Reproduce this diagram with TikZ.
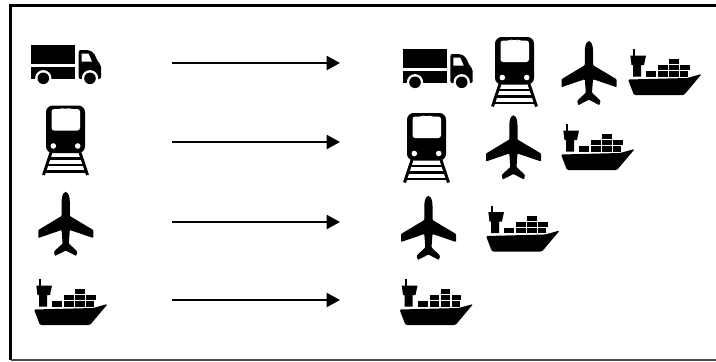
\documentclass[tikz,border=0pt]{standalone}
\usepackage{tikz}
\usetikzlibrary{arrows.meta,positioning}

\tikzset{
  arrowline/.style={-{Triangle[length=10pt,width=10.5pt]},line width=1.5pt},
  truck/.pic={
    \fill (0,0) rectangle (44.3,19);
    \fill (0,22.3) rectangle (44.3,34);
    \fill[rounded corners=1.5pt] (47.7,5) -- (58,5) -- (63,8) -- (67,17) -- (70,20) -- (70,34) -- (47.7,34) -- cycle;
    \fill[white] (50.7,8.5) -- (57.5,8.5) -- (61,16.5) -- (50.7,16.5) -- cycle;
    \fill[white] (12.3,33.3) circle (8.2);
    \fill[white] (59,33.3) circle (8.2);
    \fill (12.3,33.3) circle (5.8);
    \fill (59,33.3) circle (5.8);
  },
  train/.pic={
    \fill[rounded corners=5pt] (3,0) rectangle (42,47.5);
    \fill[white,rounded corners=2pt] (8.5,3.5) -- (18,3.5) -- (19,3) -- (26,3) -- (27,3.5) -- (37,3.5) -- (37,25) -- (8.5,25) -- cycle;
    \fill[white] (10.3,40.5) circle (2.8);
    \fill[white] (34.7,40.5) circle (2.8);
    \draw[line width=2.2pt] (8,47) -- (0.5,69.5);
    \draw[line width=2.2pt] (37,47) -- (44.5,69.5);
    \draw[line width=2pt] (7,53) -- (38,53);
    \draw[line width=2pt] (5,59.5) -- (40,59.5);
    \draw[line width=2pt] (3,66) -- (42,66);
  },
  plane/.pic={
    \fill[rounded corners=0.6pt] (27.4,0) .. controls (30,0) and (31.5,4) .. (31.5,10)
      -- (31.5,23.5) -- (55,37.5) -- (55,45.5) -- (31.5,37.5) -- (30.5,51) -- (39,59) -- (38,63.5) -- (27.4,58)
      -- (16.7,63.5) -- (15.7,59) -- (24.3,51) -- (23.3,37.5) -- (0,45.5) -- (0,37.5) -- (23.3,23.5) -- (23.3,10)
      .. controls (23.3,4) and (24.8,0) .. (27.4,0) -- cycle;
  },
  ship/.pic={
    \fill[rounded corners=1pt] (0,30.5) -- (59,29) -- (73.7,25) -- (56,46) -- (6,46) -- cycle;
    \fill (5.3,0) rectangle (7.3,7);
    \fill (2.3,6.5) -- (18,6.5) -- (16,16) -- (13,16) -- (13,27.5) -- (5,27.5) -- (5,16) -- (3.5,16) -- cycle;
    \fill (18.3,22) rectangle (28,27.5);
    \fill (30,22) rectangle (39.5,27.5);
    \fill (41,22) rectangle (50.7,27.5);
    \fill (52,22) rectangle (60,27.5);
    \fill (30,16) rectangle (39.5,21);
    \fill (41,16) rectangle (50.7,21);
    \fill (52,16) rectangle (61.7,21);
    \fill (41,10) rectangle (50.7,15);
  }
}

\begin{document}
\begin{tikzpicture}[x=0.75pt,y=-0.75pt]
  \useasboundingbox (0,0) rectangle (716,361);
  \draw[line width=1pt,black!70] (10.5,360) -- (716,360);
  \draw[line width=2pt] (716,5.5) -- (10.5,5.5) -- (10.5,360);

  % left column
  \pic at (31,45) {truck};
  \pic at (43,105.5) {train};
  \pic at (38.3,192.5) {plane};
  \pic at (34,279) {ship};

  % arrows
  \foreach \rowname/\rowy in {one/63,two/142,three/222,four/300}{
    \coordinate (start\rowname) at (172,\rowy);
    \coordinate (end\rowname) at (340,\rowy);
    \draw[arrowline] (start\rowname) -- (end\rowname);
  }

  % right column
  \pic at (402.7,49) {truck};
  \pic at (492,37) {train};
  \pic at (561.5,41.7) {plane};
  \pic at (628,49) {ship};

  \pic at (404,113) {train};
  \pic at (486,116) {plane};
  \pic at (561,124) {ship};

  \pic at (401,196.5) {plane};
  \pic at (486,205.5) {ship};

  \pic at (399.5,279) {ship};
\end{tikzpicture}
\end{document}
